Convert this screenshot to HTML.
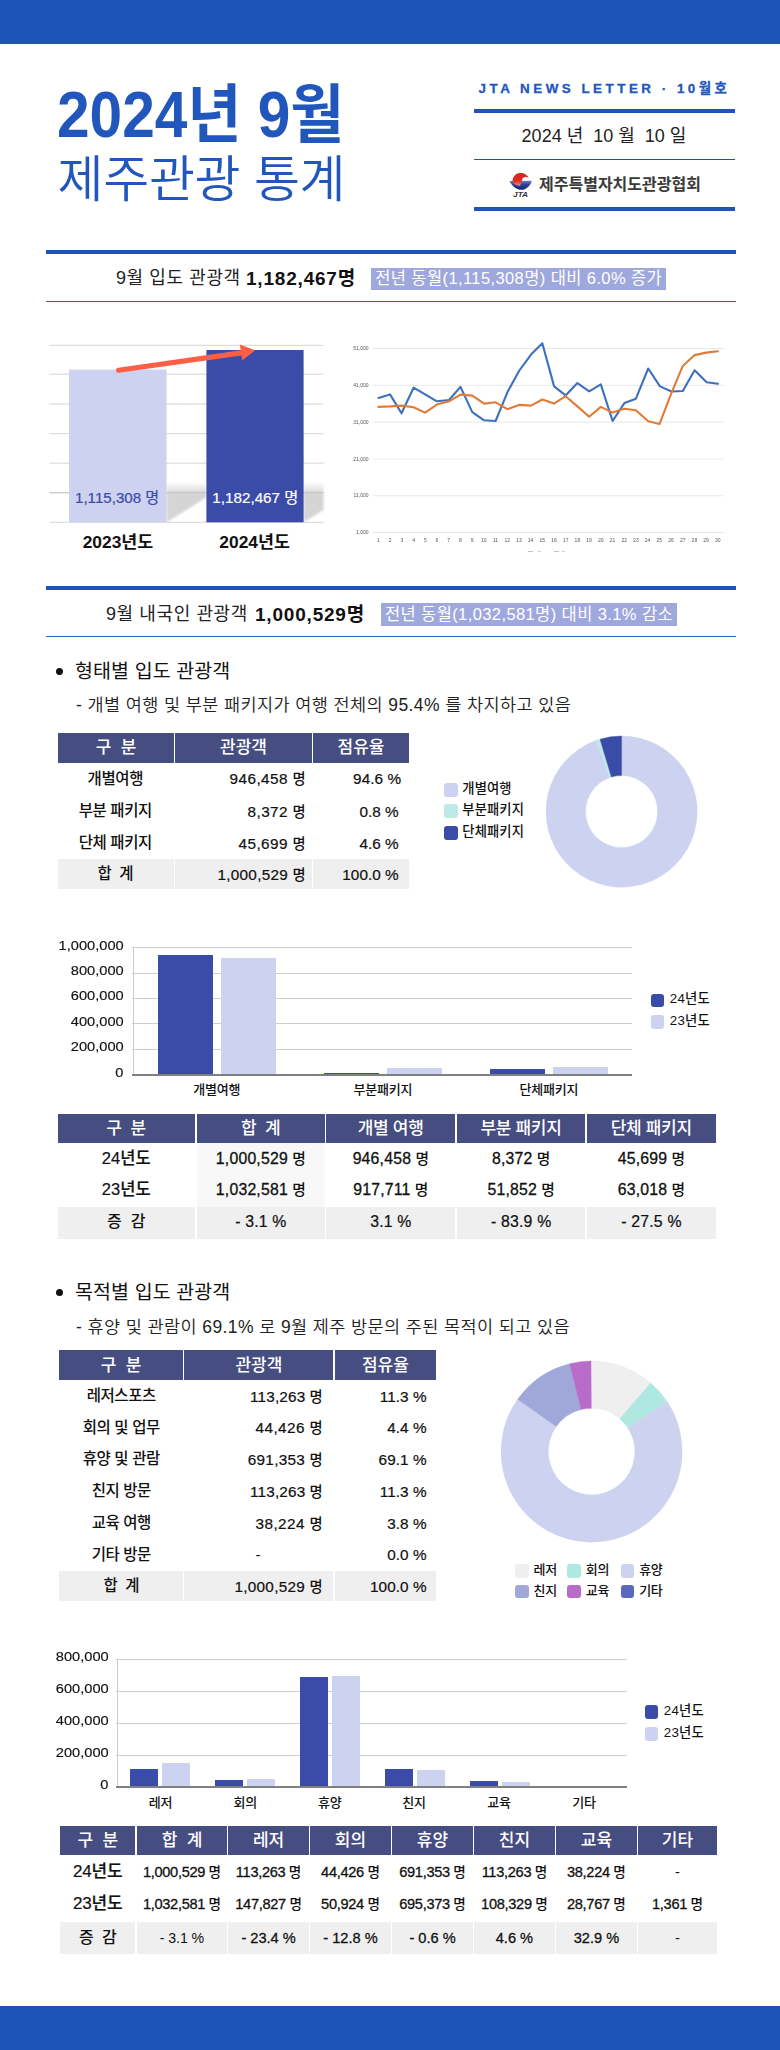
<!DOCTYPE html>
<html lang="ko"><head><meta charset="utf-8"><title>2024년 9월 제주관광 통계</title>
<style>
html,body{margin:0;padding:0;background:#fff}
#page{position:relative;width:780px;height:2050px;overflow:hidden;background:#fff;font-family:"Liberation Sans","Noto Sans CJK KR",sans-serif;}
.t{position:absolute;white-space:nowrap;}
.r{position:absolute;}
.m{-webkit-text-stroke:0;font-size:0.93em;font-weight:500;}
</style></head><body><div id="page">
<div class="r" style="left:0.0px;top:0.0px;width:780.0px;height:43.5px;background:#1f54b7;"></div>
<div class="r" style="left:0.0px;top:2005.5px;width:780.0px;height:44.5px;background:#1f54b7;"></div>
<div class="t" style="top:69.7px;height:90px;line-height:90px;font-size:64px;font-weight:700;color:#2157bd;letter-spacing:0px;left:57.3px;transform:scaleX(0.916);transform-origin:0 50%;">2024년 9월</div>
<div class="t" style="top:144.5px;height:70px;line-height:70px;font-size:50px;font-weight:350;color:#2157bd;letter-spacing:-0.3px;left:57.5px;">제주관광 통계</div>
<div class="t" style="top:78.5px;height:19px;line-height:19px;font-size:13.4px;font-weight:700;color:#2157bd;letter-spacing:3.5px;left:478.5px;-webkit-text-stroke:0.3px #2157bd;">JTA NEWS LETTER · 10월호</div>
<div class="r" style="left:474.0px;top:108.5px;width:261.0px;height:4.0px;background:#1f54b7;"></div>
<div class="t" style="top:124.0px;height:25px;line-height:25px;font-size:18px;font-weight:400;color:#222;left:404.0px;width:400px;text-align:center;">2024 년&nbsp; 10 월&nbsp; 10 일</div>
<div class="r" style="left:474.0px;top:159.0px;width:261.0px;height:1.2px;background:#1f54b7;"></div>
<div class="r" style="left:474.0px;top:206.5px;width:261.0px;height:4.0px;background:#1f54b7;"></div>
<div class="t" style="top:173.5px;height:22px;line-height:22px;font-size:16px;font-weight:700;color:#3a3a3a;letter-spacing:0px;left:539.0px;">제주특별자치도관광협회</div>
<svg class="r" style="left:505px;top:168px" width="30" height="32" viewBox="505 168 30 32">
<defs><linearGradient id="lb" x1="0" y1="0" x2="0" y2="1"><stop offset="0" stop-color="#6b7fc6"/><stop offset="0.45" stop-color="#2c3f95"/><stop offset="1" stop-color="#1a2874"/></linearGradient>
<linearGradient id="lr" x1="0" y1="0" x2="0" y2="1"><stop offset="0" stop-color="#d9261c"/><stop offset="0.6" stop-color="#dc2d23"/><stop offset="1" stop-color="#ee8a80"/></linearGradient></defs>
<path d="M509.5 181 L531.7 180.7 C530.3 186 526.2 189.8 521.4 189.8 C516.6 189.8 512.2 186.4 509.5 181 Z" fill="url(#lb)"/>
<path d="M512.5 180.6 A8.3 7.3 0 0 1 528.8 178.4 C527 176.6 523.9 176.5 522.6 178.6 C521.4 180.6 521.6 183.6 519.8 185.9 C515.6 185.6 512.7 183.6 512.5 180.6 Z" fill="url(#lr)"/>
<text x="520.6" y="196.9" font-family="Liberation Sans, sans-serif" font-size="6.4" font-weight="700" font-style="italic" text-anchor="middle" fill="#333" textLength="15" lengthAdjust="spacingAndGlyphs">JTA</text>
</svg>
<div class="r" style="left:46.0px;top:250.0px;width:690.0px;height:4.0px;background:#1f54b7;"></div>
<div class="r" style="left:46.0px;top:300.5px;width:690.0px;height:1.2px;background:#2d5fc0;"></div>
<div class="t" style="top:266.0px;height:25px;line-height:25px;font-size:18px;font-weight:400;color:#222;letter-spacing:0.6px;left:116.0px;">9월 입도 관광객</div>
<div class="t" style="top:265.0px;height:27px;line-height:27px;font-size:19px;font-weight:700;color:#111;letter-spacing:0.8px;left:246.0px;">1,182,467명</div>
<div class="r" style="left:371.0px;top:267.5px;width:295.0px;height:22.5px;background:#9fa8dc;"></div>
<div class="t" style="top:267.0px;height:23px;line-height:23px;font-size:16.5px;font-weight:400;color:#fff;letter-spacing:0.4px;left:318.5px;width:400px;text-align:center;text-indent:0.4px;">전년 동월(1,115,308명) 대비 6.0% 증가</div>
<div class="r" style="left:46.0px;top:585.5px;width:690.0px;height:4.0px;background:#1f54b7;"></div>
<div class="r" style="left:46.0px;top:636.0px;width:690.0px;height:1.2px;background:#2d5fc0;"></div>
<div class="t" style="top:601.5px;height:25px;line-height:25px;font-size:18px;font-weight:400;color:#222;letter-spacing:0.6px;left:106.0px;">9월 내국인 관광객</div>
<div class="t" style="top:600.5px;height:27px;line-height:27px;font-size:19px;font-weight:700;color:#111;letter-spacing:0.8px;left:255.0px;">1,000,529명</div>
<div class="r" style="left:381.0px;top:603.0px;width:295.5px;height:22.5px;background:#9fa8dc;"></div>
<div class="t" style="top:602.5px;height:23px;line-height:23px;font-size:16.5px;font-weight:400;color:#fff;letter-spacing:0.4px;left:328.8px;width:400px;text-align:center;text-indent:0.4px;">전년 동월(1,032,581명) 대비 3.1% 감소</div>
<svg class="r" style="left:40px;top:330px" width="300" height="240" viewBox="40 330 300 240"><defs><linearGradient id="sh" x1="0" y1="0" x2="0" y2="1"><stop offset="0" stop-color="#d4d4d4" stop-opacity="0"/><stop offset="0.3" stop-color="#d4d4d4" stop-opacity="1"/><stop offset="1" stop-color="#d6d6d6" stop-opacity="1"/></linearGradient><filter id="bl" x="-10%" y="-10%" width="120%" height="120%"><feGaussianBlur stdDeviation="1.1"/></filter></defs><rect x="49.5" y="344.79999999999995" width="274" height="1.2" fill="#dcdcdc"/><rect x="49.5" y="373.59999999999997" width="274" height="1.2" fill="#dcdcdc"/><rect x="49.5" y="403.5" width="274" height="1.2" fill="#dcdcdc"/><rect x="49.5" y="433.0" width="274" height="1.2" fill="#dcdcdc"/><rect x="49.5" y="462.59999999999997" width="274" height="1.2" fill="#dcdcdc"/><rect x="49.5" y="492.09999999999997" width="274" height="1.2" fill="#dcdcdc"/><rect x="49.5" y="521.6999999999999" width="274" height="1.2" fill="#dcdcdc"/><polygon points="166.6,522.3 206.4,497.5 206.4,482 166.6,482" fill="url(#sh)" filter="url(#bl)"/><polygon points="303.6,522.3 323.5,510 323.5,482 303.6,482" fill="url(#sh)" filter="url(#bl)"/><rect x="49.5" y="492.1" width="274" height="1.2" fill="#bdbdbd" opacity="0.6"/><rect x="69" y="369.6" width="97.6" height="152.7" fill="#cdd2f0"/><rect x="206.4" y="350" width="97.2" height="172.3" fill="#3b4ba8"/><line x1="118.6" y1="370.2" x2="243" y2="352.6" stroke="#fb6047" stroke-width="5.2" stroke-linecap="round"/><polygon points="255.2,350.3 239.8,344.6 242.2,360.6" fill="#fb6047"/><text x="75" y="502.6" font-family='"Liberation Sans","Noto Sans CJK KR",sans-serif' font-size="14.5" font-weight="400" fill="#3b4ba8" stroke="#3b4ba8" stroke-width="0.2" textLength="84.3" lengthAdjust="spacingAndGlyphs">1,115,308 명</text><text x="212.3" y="502.6" font-family='"Liberation Sans","Noto Sans CJK KR",sans-serif' font-size="14.5" font-weight="400" fill="#fff" stroke="#fff" stroke-width="0.2" textLength="86" lengthAdjust="spacingAndGlyphs">1,182,467 명</text><text x="82.7" y="548" font-family='"Liberation Sans","Noto Sans CJK KR",sans-serif' font-size="16.5" font-weight="700" fill="#111" textLength="70.6" lengthAdjust="spacingAndGlyphs">2023년도</text><text x="219.3" y="548" font-family='"Liberation Sans","Noto Sans CJK KR",sans-serif' font-size="16.5" font-weight="700" fill="#111" textLength="70.7" lengthAdjust="spacingAndGlyphs">2024년도</text></svg>
<svg class="r" style="left:340px;top:330px" width="400" height="240" viewBox="340 330 400 240"><defs><filter id="bl2"><feGaussianBlur stdDeviation="0.35"/></filter></defs><g filter="url(#bl2)"><rect x="373" y="348.0" width="351" height="0.8" fill="#e3e3e3"/><text x="368.5" y="350.0" font-family='"Liberation Sans","Noto Sans CJK KR",sans-serif' font-size="5" fill="#555" text-anchor="end">51,000</text><rect x="373" y="384.9" width="351" height="0.8" fill="#e3e3e3"/><text x="368.5" y="386.9" font-family='"Liberation Sans","Noto Sans CJK KR",sans-serif' font-size="5" fill="#555" text-anchor="end">41,000</text><rect x="373" y="421.7" width="351" height="0.8" fill="#e3e3e3"/><text x="368.5" y="423.7" font-family='"Liberation Sans","Noto Sans CJK KR",sans-serif' font-size="5" fill="#555" text-anchor="end">31,000</text><rect x="373" y="458.6" width="351" height="0.8" fill="#e3e3e3"/><text x="368.5" y="460.6" font-family='"Liberation Sans","Noto Sans CJK KR",sans-serif' font-size="5" fill="#555" text-anchor="end">21,000</text><rect x="373" y="495.4" width="351" height="0.8" fill="#e3e3e3"/><text x="368.5" y="497.4" font-family='"Liberation Sans","Noto Sans CJK KR",sans-serif' font-size="5" fill="#555" text-anchor="end">11,000</text><rect x="373" y="532.2" width="351" height="0.8" fill="#e3e3e3"/><text x="368.5" y="534.2" font-family='"Liberation Sans","Noto Sans CJK KR",sans-serif' font-size="5" fill="#555" text-anchor="end">1,000</text><text x="378.5" y="541.5" font-family='"Liberation Sans","Noto Sans CJK KR",sans-serif' font-size="5" fill="#555" text-anchor="middle">1</text><text x="390.2" y="541.5" font-family='"Liberation Sans","Noto Sans CJK KR",sans-serif' font-size="5" fill="#555" text-anchor="middle">2</text><text x="401.9" y="541.5" font-family='"Liberation Sans","Noto Sans CJK KR",sans-serif' font-size="5" fill="#555" text-anchor="middle">3</text><text x="413.6" y="541.5" font-family='"Liberation Sans","Noto Sans CJK KR",sans-serif' font-size="5" fill="#555" text-anchor="middle">4</text><text x="425.3" y="541.5" font-family='"Liberation Sans","Noto Sans CJK KR",sans-serif' font-size="5" fill="#555" text-anchor="middle">5</text><text x="437.0" y="541.5" font-family='"Liberation Sans","Noto Sans CJK KR",sans-serif' font-size="5" fill="#555" text-anchor="middle">6</text><text x="448.7" y="541.5" font-family='"Liberation Sans","Noto Sans CJK KR",sans-serif' font-size="5" fill="#555" text-anchor="middle">7</text><text x="460.4" y="541.5" font-family='"Liberation Sans","Noto Sans CJK KR",sans-serif' font-size="5" fill="#555" text-anchor="middle">8</text><text x="472.1" y="541.5" font-family='"Liberation Sans","Noto Sans CJK KR",sans-serif' font-size="5" fill="#555" text-anchor="middle">9</text><text x="483.8" y="541.5" font-family='"Liberation Sans","Noto Sans CJK KR",sans-serif' font-size="5" fill="#555" text-anchor="middle">10</text><text x="495.5" y="541.5" font-family='"Liberation Sans","Noto Sans CJK KR",sans-serif' font-size="5" fill="#555" text-anchor="middle">11</text><text x="507.2" y="541.5" font-family='"Liberation Sans","Noto Sans CJK KR",sans-serif' font-size="5" fill="#555" text-anchor="middle">12</text><text x="518.9" y="541.5" font-family='"Liberation Sans","Noto Sans CJK KR",sans-serif' font-size="5" fill="#555" text-anchor="middle">13</text><text x="530.6" y="541.5" font-family='"Liberation Sans","Noto Sans CJK KR",sans-serif' font-size="5" fill="#555" text-anchor="middle">14</text><text x="542.3" y="541.5" font-family='"Liberation Sans","Noto Sans CJK KR",sans-serif' font-size="5" fill="#555" text-anchor="middle">15</text><text x="554.0" y="541.5" font-family='"Liberation Sans","Noto Sans CJK KR",sans-serif' font-size="5" fill="#555" text-anchor="middle">16</text><text x="565.7" y="541.5" font-family='"Liberation Sans","Noto Sans CJK KR",sans-serif' font-size="5" fill="#555" text-anchor="middle">17</text><text x="577.4" y="541.5" font-family='"Liberation Sans","Noto Sans CJK KR",sans-serif' font-size="5" fill="#555" text-anchor="middle">18</text><text x="589.1" y="541.5" font-family='"Liberation Sans","Noto Sans CJK KR",sans-serif' font-size="5" fill="#555" text-anchor="middle">19</text><text x="600.8" y="541.5" font-family='"Liberation Sans","Noto Sans CJK KR",sans-serif' font-size="5" fill="#555" text-anchor="middle">20</text><text x="612.5" y="541.5" font-family='"Liberation Sans","Noto Sans CJK KR",sans-serif' font-size="5" fill="#555" text-anchor="middle">21</text><text x="624.2" y="541.5" font-family='"Liberation Sans","Noto Sans CJK KR",sans-serif' font-size="5" fill="#555" text-anchor="middle">22</text><text x="635.9" y="541.5" font-family='"Liberation Sans","Noto Sans CJK KR",sans-serif' font-size="5" fill="#555" text-anchor="middle">23</text><text x="647.6" y="541.5" font-family='"Liberation Sans","Noto Sans CJK KR",sans-serif' font-size="5" fill="#555" text-anchor="middle">24</text><text x="659.3" y="541.5" font-family='"Liberation Sans","Noto Sans CJK KR",sans-serif' font-size="5" fill="#555" text-anchor="middle">25</text><text x="671.0" y="541.5" font-family='"Liberation Sans","Noto Sans CJK KR",sans-serif' font-size="5" fill="#555" text-anchor="middle">26</text><text x="682.7" y="541.5" font-family='"Liberation Sans","Noto Sans CJK KR",sans-serif' font-size="5" fill="#555" text-anchor="middle">27</text><text x="694.4" y="541.5" font-family='"Liberation Sans","Noto Sans CJK KR",sans-serif' font-size="5" fill="#555" text-anchor="middle">28</text><text x="706.1" y="541.5" font-family='"Liberation Sans","Noto Sans CJK KR",sans-serif' font-size="5" fill="#555" text-anchor="middle">29</text><text x="717.8" y="541.5" font-family='"Liberation Sans","Noto Sans CJK KR",sans-serif' font-size="5" fill="#555" text-anchor="middle">30</text><polyline fill="none" stroke="#3e6fbe" stroke-width="2.1" stroke-linejoin="round" stroke-linecap="round" points="378.5,397.9 390.0,394.4 401.5,413.3 413.6,387.7 425.1,394.4 436.9,401.3 449.0,400.0 460.5,386.9 472.3,412.1 484.1,420.3 495.6,421.0 507.4,392.3 519.0,371.0 531.0,354.6 542.3,343.3 554.1,386.4 565.6,395.4 577.4,383.1 589.2,391.3 600.8,384.4 612.6,421.0 624.4,403.1 635.9,398.7 648.2,368.5 660.0,386.4 671.5,391.5 682.8,391.0 694.6,370.3 706.7,382.3 717.9,383.8"/><polyline fill="none" stroke="#e07b39" stroke-width="2.1" stroke-linejoin="round" stroke-linecap="round" points="378.5,406.9 390.0,406.4 401.5,405.6 413.6,407.2 425.1,412.6 436.9,404.6 449.0,401.3 460.5,394.6 472.3,395.6 484.1,403.6 495.6,402.3 507.4,409.2 519.0,404.9 531.0,405.6 542.3,399.5 554.1,403.6 565.6,396.2 577.4,406.4 589.2,416.7 600.8,406.9 612.6,412.6 624.4,408.7 635.9,410.3 648.2,421.3 659.5,424.1 671.0,394.1 682.8,365.9 694.6,355.1 706.2,352.6 717.9,351.3"/><rect x="528" y="551" width="5" height="0.7" fill="#aaa"/><rect x="538" y="551" width="3" height="0.7" fill="#bbb"/><rect x="554" y="551" width="5" height="0.7" fill="#aaa"/><rect x="562" y="551" width="3" height="0.7" fill="#bbb"/></g></svg>
<div class="r" style="left:55.5px;top:667.5px;width:7.4px;height:7.4px;background:#111;border-radius:50%;"></div>
<div class="t" style="top:657.5px;height:27px;line-height:27px;font-size:19.5px;font-weight:400;color:#111;letter-spacing:0.1px;left:75.0px;">형태별 입도 관광객</div>
<div class="t" style="top:692.8px;height:24px;line-height:24px;font-size:17.5px;font-weight:350;color:#222;letter-spacing:0.4px;left:76.0px;">- 개별 여행 및 부분 패키지가 여행 전체의 95.4% 를 차지하고 있음</div>
<div class="r" style="left:55.5px;top:1288.5px;width:7.4px;height:7.4px;background:#111;border-radius:50%;"></div>
<div class="t" style="top:1278.5px;height:27px;line-height:27px;font-size:19.5px;font-weight:400;color:#111;letter-spacing:0.1px;left:75.0px;">목적별 입도 관광객</div>
<div class="t" style="top:1314.8px;height:24px;line-height:24px;font-size:17.5px;font-weight:350;color:#222;letter-spacing:0.4px;left:76.0px;">- 휴양 및 관람이 69.1% 로 9월 제주 방문의 주된 목적이 되고 있음</div>
<div class="r" style="left:58.0px;top:732.5px;width:116.0px;height:30.0px;background:#464d80;"></div>
<div class="t" style="top:736.0px;height:24px;line-height:24px;font-size:17px;font-weight:500;color:#fff;letter-spacing:0px;left:-84.0px;width:400px;text-align:center;">구&nbsp; 분</div>
<div class="r" style="left:175.3px;top:732.5px;width:136.4px;height:30.0px;background:#464d80;"></div>
<div class="t" style="top:736.0px;height:24px;line-height:24px;font-size:17px;font-weight:500;color:#fff;letter-spacing:0px;left:43.5px;width:400px;text-align:center;">관광객</div>
<div class="r" style="left:313.0px;top:732.5px;width:96.0px;height:30.0px;background:#464d80;"></div>
<div class="t" style="top:736.0px;height:24px;line-height:24px;font-size:17px;font-weight:500;color:#fff;letter-spacing:0px;left:161.0px;width:400px;text-align:center;">점유율</div>
<div class="r" style="left:58.0px;top:859.0px;width:116.0px;height:30.0px;background:#efefef;"></div>
<div class="r" style="left:175.3px;top:859.0px;width:136.4px;height:30.0px;background:#efefef;"></div>
<div class="r" style="left:313.0px;top:859.0px;width:96.0px;height:30.0px;background:#efefef;"></div>
<div class="t" style="top:767.5px;height:22px;line-height:22px;font-size:15.5px;font-weight:500;color:#111;letter-spacing:-0.4px;left:-84.5px;width:400px;text-align:center;text-indent:-0.4px;">개별여행</div>
<div class="t" style="top:768.0px;height:21px;line-height:21px;font-size:15.3px;font-weight:400;color:#111;letter-spacing:0.45px;right:474.5px;-webkit-text-stroke:0.22px #111;margin-right:-0.45px;">946,458<span class="m"> 명</span></div>
<div class="t" style="top:768.0px;height:21px;line-height:21px;font-size:15.3px;font-weight:400;color:#111;letter-spacing:0.05px;right:379.0px;-webkit-text-stroke:0.22px #111;margin-right:-0.05px;">94.6 %</div>
<div class="t" style="top:800.0px;height:22px;line-height:22px;font-size:15.5px;font-weight:500;color:#111;letter-spacing:-0.4px;left:-84.5px;width:400px;text-align:center;text-indent:-0.4px;">부분 패키지</div>
<div class="t" style="top:800.5px;height:21px;line-height:21px;font-size:15.3px;font-weight:400;color:#111;letter-spacing:0.45px;right:474.5px;-webkit-text-stroke:0.22px #111;margin-right:-0.45px;">8,372<span class="m"> 명</span></div>
<div class="t" style="top:800.5px;height:21px;line-height:21px;font-size:15.3px;font-weight:400;color:#111;letter-spacing:0.05px;right:381.3px;-webkit-text-stroke:0.22px #111;margin-right:-0.05px;">0.8 %</div>
<div class="t" style="top:832.0px;height:22px;line-height:22px;font-size:15.5px;font-weight:500;color:#111;letter-spacing:-0.4px;left:-84.5px;width:400px;text-align:center;text-indent:-0.4px;">단체 패키지</div>
<div class="t" style="top:832.5px;height:21px;line-height:21px;font-size:15.3px;font-weight:400;color:#111;letter-spacing:0.45px;right:474.5px;-webkit-text-stroke:0.22px #111;margin-right:-0.45px;">45,699<span class="m"> 명</span></div>
<div class="t" style="top:832.5px;height:21px;line-height:21px;font-size:15.3px;font-weight:400;color:#111;letter-spacing:0.05px;right:381.3px;-webkit-text-stroke:0.22px #111;margin-right:-0.05px;">4.6 %</div>
<div class="t" style="top:863.0px;height:22px;line-height:22px;font-size:15.5px;font-weight:500;color:#111;letter-spacing:-0.4px;left:-84.5px;width:400px;text-align:center;text-indent:-0.4px;">합&nbsp; 계</div>
<div class="t" style="top:863.5px;height:21px;line-height:21px;font-size:15.3px;font-weight:400;color:#111;letter-spacing:0.30000000000000004px;right:474.5px;-webkit-text-stroke:0.22px #111;margin-right:-0.30000000000000004px;">1,000,529<span class="m"> 명</span></div>
<div class="t" style="top:863.5px;height:21px;line-height:21px;font-size:15.3px;font-weight:400;color:#111;letter-spacing:0.05px;right:381.3px;-webkit-text-stroke:0.22px #111;margin-right:-0.05px;">100.0 %</div>
<div class="r" style="left:59.0px;top:1350.0px;width:124.0px;height:30.0px;background:#464d80;"></div>
<div class="t" style="top:1353.5px;height:24px;line-height:24px;font-size:17px;font-weight:500;color:#fff;letter-spacing:0px;left:-79.0px;width:400px;text-align:center;">구&nbsp; 분</div>
<div class="r" style="left:184.3px;top:1350.0px;width:149.2px;height:30.0px;background:#464d80;"></div>
<div class="t" style="top:1353.5px;height:24px;line-height:24px;font-size:17px;font-weight:500;color:#fff;letter-spacing:0px;left:58.9px;width:400px;text-align:center;">관광객</div>
<div class="r" style="left:334.8px;top:1350.0px;width:101.2px;height:30.0px;background:#464d80;"></div>
<div class="t" style="top:1353.5px;height:24px;line-height:24px;font-size:17px;font-weight:500;color:#fff;letter-spacing:0px;left:185.4px;width:400px;text-align:center;">점유율</div>
<div class="r" style="left:59.0px;top:1570.7px;width:124.0px;height:30.5px;background:#efefef;"></div>
<div class="r" style="left:184.3px;top:1570.7px;width:149.2px;height:30.5px;background:#efefef;"></div>
<div class="r" style="left:334.8px;top:1570.7px;width:101.2px;height:30.5px;background:#efefef;"></div>
<div class="t" style="top:1385.2px;height:22px;line-height:22px;font-size:15.5px;font-weight:500;color:#111;letter-spacing:-0.4px;left:-78.5px;width:400px;text-align:center;text-indent:-0.4px;">레저스포츠</div>
<div class="t" style="top:1385.7px;height:21px;line-height:21px;font-size:15.3px;font-weight:400;color:#111;letter-spacing:0.15000000000000002px;right:457.5px;-webkit-text-stroke:0.22px #111;margin-right:-0.15000000000000002px;">113,263<span class="m"> 명</span></div>
<div class="t" style="top:1385.7px;height:21px;line-height:21px;font-size:15.3px;font-weight:400;color:#111;letter-spacing:0.05px;right:353.5px;-webkit-text-stroke:0.22px #111;margin-right:-0.05px;">11.3 %</div>
<div class="t" style="top:1416.7px;height:22px;line-height:22px;font-size:15.5px;font-weight:500;color:#111;letter-spacing:-0.4px;left:-78.5px;width:400px;text-align:center;text-indent:-0.4px;">회의 및 업무</div>
<div class="t" style="top:1417.2px;height:21px;line-height:21px;font-size:15.3px;font-weight:400;color:#111;letter-spacing:0.45px;right:457.5px;-webkit-text-stroke:0.22px #111;margin-right:-0.45px;">44,426<span class="m"> 명</span></div>
<div class="t" style="top:1417.2px;height:21px;line-height:21px;font-size:15.3px;font-weight:400;color:#111;letter-spacing:0.05px;right:353.5px;-webkit-text-stroke:0.22px #111;margin-right:-0.05px;">4.4 %</div>
<div class="t" style="top:1448.2px;height:22px;line-height:22px;font-size:15.5px;font-weight:500;color:#111;letter-spacing:-0.4px;left:-78.5px;width:400px;text-align:center;text-indent:-0.4px;">휴양 및 관람</div>
<div class="t" style="top:1448.7px;height:21px;line-height:21px;font-size:15.3px;font-weight:400;color:#111;letter-spacing:0.30000000000000004px;right:457.5px;-webkit-text-stroke:0.22px #111;margin-right:-0.30000000000000004px;">691,353<span class="m"> 명</span></div>
<div class="t" style="top:1448.7px;height:21px;line-height:21px;font-size:15.3px;font-weight:400;color:#111;letter-spacing:0.05px;right:353.5px;-webkit-text-stroke:0.22px #111;margin-right:-0.05px;">69.1 %</div>
<div class="t" style="top:1480.3px;height:22px;line-height:22px;font-size:15.5px;font-weight:500;color:#111;letter-spacing:-0.4px;left:-78.5px;width:400px;text-align:center;text-indent:-0.4px;">친지 방문</div>
<div class="t" style="top:1480.8px;height:21px;line-height:21px;font-size:15.3px;font-weight:400;color:#111;letter-spacing:0.15000000000000002px;right:457.5px;-webkit-text-stroke:0.22px #111;margin-right:-0.15000000000000002px;">113,263<span class="m"> 명</span></div>
<div class="t" style="top:1480.8px;height:21px;line-height:21px;font-size:15.3px;font-weight:400;color:#111;letter-spacing:0.05px;right:353.5px;-webkit-text-stroke:0.22px #111;margin-right:-0.05px;">11.3 %</div>
<div class="t" style="top:1512.4px;height:22px;line-height:22px;font-size:15.5px;font-weight:500;color:#111;letter-spacing:-0.4px;left:-78.5px;width:400px;text-align:center;text-indent:-0.4px;">교육 여행</div>
<div class="t" style="top:1512.9px;height:21px;line-height:21px;font-size:15.3px;font-weight:400;color:#111;letter-spacing:0.45px;right:457.5px;-webkit-text-stroke:0.22px #111;margin-right:-0.45px;">38,224<span class="m"> 명</span></div>
<div class="t" style="top:1512.9px;height:21px;line-height:21px;font-size:15.3px;font-weight:400;color:#111;letter-spacing:0.05px;right:353.5px;-webkit-text-stroke:0.22px #111;margin-right:-0.05px;">3.8 %</div>
<div class="t" style="top:1543.9px;height:22px;line-height:22px;font-size:15.5px;font-weight:500;color:#111;letter-spacing:-0.4px;left:-78.5px;width:400px;text-align:center;text-indent:-0.4px;">기타 방문</div>
<div class="t" style="top:1544.4px;height:21px;line-height:21px;font-size:15.3px;font-weight:400;color:#111;left:58.0px;width:400px;text-align:center;">-</div>
<div class="t" style="top:1544.4px;height:21px;line-height:21px;font-size:15.3px;font-weight:400;color:#111;letter-spacing:0.05px;right:353.5px;-webkit-text-stroke:0.22px #111;margin-right:-0.05px;">0.0 %</div>
<div class="t" style="top:1575.0px;height:22px;line-height:22px;font-size:15.5px;font-weight:500;color:#111;letter-spacing:-0.4px;left:-78.5px;width:400px;text-align:center;text-indent:-0.4px;">합&nbsp; 계</div>
<div class="t" style="top:1575.5px;height:21px;line-height:21px;font-size:15.3px;font-weight:400;color:#111;letter-spacing:0.30000000000000004px;right:457.5px;-webkit-text-stroke:0.22px #111;margin-right:-0.30000000000000004px;">1,000,529<span class="m"> 명</span></div>
<div class="t" style="top:1575.5px;height:21px;line-height:21px;font-size:15.3px;font-weight:400;color:#111;letter-spacing:0.05px;right:353.5px;-webkit-text-stroke:0.22px #111;margin-right:-0.05px;">100.0 %</div>
<div class="r" style="left:57.5px;top:1113.8px;width:137.5px;height:29.2px;background:#464d80;"></div>
<div class="t" style="top:1116.9px;height:24px;line-height:24px;font-size:17px;font-weight:500;color:#fff;letter-spacing:-0.3px;left:-73.8px;width:400px;text-align:center;text-indent:-0.3px;">구&nbsp; 분</div>
<div class="r" style="left:196.5px;top:1113.8px;width:128.5px;height:29.2px;background:#464d80;"></div>
<div class="t" style="top:1116.9px;height:24px;line-height:24px;font-size:17px;font-weight:500;color:#fff;letter-spacing:-0.3px;left:60.8px;width:400px;text-align:center;text-indent:-0.3px;">합&nbsp; 계</div>
<div class="r" style="left:326.3px;top:1113.8px;width:129.0px;height:29.2px;background:#464d80;"></div>
<div class="t" style="top:1116.9px;height:24px;line-height:24px;font-size:17px;font-weight:500;color:#fff;letter-spacing:-0.3px;left:190.8px;width:400px;text-align:center;text-indent:-0.3px;">개별 여행</div>
<div class="r" style="left:456.8px;top:1113.8px;width:128.7px;height:29.2px;background:#464d80;"></div>
<div class="t" style="top:1116.9px;height:24px;line-height:24px;font-size:17px;font-weight:500;color:#fff;letter-spacing:-0.3px;left:321.1px;width:400px;text-align:center;text-indent:-0.3px;">부분 패키지</div>
<div class="r" style="left:586.8px;top:1113.8px;width:129.2px;height:29.2px;background:#464d80;"></div>
<div class="t" style="top:1116.9px;height:24px;line-height:24px;font-size:17px;font-weight:500;color:#fff;letter-spacing:-0.3px;left:451.4px;width:400px;text-align:center;text-indent:-0.3px;">단체 패키지</div>
<div class="r" style="left:196.5px;top:1143.0px;width:128.5px;height:63.6px;background:#f8f8f8;"></div>
<div class="r" style="left:57.5px;top:1206.6px;width:137.5px;height:32.0px;background:#efefef;"></div>
<div class="r" style="left:196.5px;top:1206.6px;width:128.5px;height:32.0px;background:#efefef;"></div>
<div class="r" style="left:326.3px;top:1206.6px;width:129.0px;height:32.0px;background:#efefef;"></div>
<div class="r" style="left:456.8px;top:1206.6px;width:128.7px;height:32.0px;background:#efefef;"></div>
<div class="r" style="left:586.8px;top:1206.6px;width:129.2px;height:32.0px;background:#efefef;"></div>
<div class="t" style="top:1147.1px;height:23px;line-height:23px;font-size:16.5px;font-weight:500;color:#111;letter-spacing:0.1px;left:-73.8px;width:400px;text-align:center;-webkit-text-stroke:0.2px #111;text-indent:0.1px;">24년도</div>
<div class="t" style="top:1147.6px;height:22px;line-height:22px;font-size:15.8px;font-weight:500;color:#111;letter-spacing:0.2px;left:60.8px;width:400px;text-align:center;-webkit-text-stroke:0.3px #111;text-indent:0.2px;">1,000,529<span class="m"> 명</span></div>
<div class="t" style="top:1147.6px;height:22px;line-height:22px;font-size:15.8px;font-weight:500;color:#111;letter-spacing:0.2px;left:190.8px;width:400px;text-align:center;-webkit-text-stroke:0.3px #111;text-indent:0.2px;">946,458<span class="m"> 명</span></div>
<div class="t" style="top:1147.6px;height:22px;line-height:22px;font-size:15.8px;font-weight:500;color:#111;letter-spacing:0.2px;left:321.1px;width:400px;text-align:center;-webkit-text-stroke:0.3px #111;text-indent:0.2px;">8,372<span class="m"> 명</span></div>
<div class="t" style="top:1147.6px;height:22px;line-height:22px;font-size:15.8px;font-weight:500;color:#111;letter-spacing:0.2px;left:451.4px;width:400px;text-align:center;-webkit-text-stroke:0.3px #111;text-indent:0.2px;">45,699<span class="m"> 명</span></div>
<div class="t" style="top:1178.0px;height:23px;line-height:23px;font-size:16.5px;font-weight:500;color:#111;letter-spacing:0.1px;left:-73.8px;width:400px;text-align:center;-webkit-text-stroke:0.2px #111;text-indent:0.1px;">23년도</div>
<div class="t" style="top:1178.5px;height:22px;line-height:22px;font-size:15.8px;font-weight:500;color:#111;letter-spacing:0.2px;left:60.8px;width:400px;text-align:center;-webkit-text-stroke:0.3px #111;text-indent:0.2px;">1,032,581<span class="m"> 명</span></div>
<div class="t" style="top:1178.5px;height:22px;line-height:22px;font-size:15.8px;font-weight:500;color:#111;letter-spacing:0.2px;left:190.8px;width:400px;text-align:center;-webkit-text-stroke:0.3px #111;text-indent:0.2px;">917,711<span class="m"> 명</span></div>
<div class="t" style="top:1178.5px;height:22px;line-height:22px;font-size:15.8px;font-weight:500;color:#111;letter-spacing:0.2px;left:321.1px;width:400px;text-align:center;-webkit-text-stroke:0.3px #111;text-indent:0.2px;">51,852<span class="m"> 명</span></div>
<div class="t" style="top:1178.5px;height:22px;line-height:22px;font-size:15.8px;font-weight:500;color:#111;letter-spacing:0.2px;left:451.4px;width:400px;text-align:center;-webkit-text-stroke:0.3px #111;text-indent:0.2px;">63,018<span class="m"> 명</span></div>
<div class="t" style="top:1211.0px;height:22px;line-height:22px;font-size:16px;font-weight:500;color:#111;letter-spacing:0px;left:-73.8px;width:400px;text-align:center;">증&nbsp; 감</div>
<div class="t" style="top:1211.0px;height:22px;line-height:22px;font-size:15.8px;font-weight:500;color:#111;letter-spacing:0.2px;left:60.8px;width:400px;text-align:center;-webkit-text-stroke:0.22px #111;text-indent:0.2px;">- 3.1 %</div>
<div class="t" style="top:1211.0px;height:22px;line-height:22px;font-size:15.8px;font-weight:500;color:#111;letter-spacing:0.2px;left:190.8px;width:400px;text-align:center;-webkit-text-stroke:0.22px #111;text-indent:0.2px;">3.1 %</div>
<div class="t" style="top:1211.0px;height:22px;line-height:22px;font-size:15.8px;font-weight:500;color:#111;letter-spacing:0.2px;left:321.1px;width:400px;text-align:center;-webkit-text-stroke:0.22px #111;text-indent:0.2px;">- 83.9 %</div>
<div class="t" style="top:1211.0px;height:22px;line-height:22px;font-size:15.8px;font-weight:500;color:#111;letter-spacing:0.2px;left:451.4px;width:400px;text-align:center;-webkit-text-stroke:0.22px #111;text-indent:0.2px;">- 27.5 %</div>
<div class="r" style="left:60.3px;top:1826.0px;width:75.2px;height:28.7px;background:#464d80;"></div>
<div class="t" style="top:1828.8px;height:24px;line-height:24px;font-size:17px;font-weight:500;color:#fff;letter-spacing:0px;left:-102.1px;width:400px;text-align:center;">구&nbsp; 분</div>
<div class="r" style="left:137.0px;top:1826.0px;width:90.0px;height:28.7px;background:#464d80;"></div>
<div class="t" style="top:1828.8px;height:24px;line-height:24px;font-size:17px;font-weight:500;color:#fff;letter-spacing:0px;left:-18.0px;width:400px;text-align:center;">합&nbsp; 계</div>
<div class="r" style="left:228.3px;top:1826.0px;width:80.5px;height:28.7px;background:#464d80;"></div>
<div class="t" style="top:1828.8px;height:24px;line-height:24px;font-size:17px;font-weight:500;color:#fff;letter-spacing:0px;left:68.6px;width:400px;text-align:center;">레저</div>
<div class="r" style="left:310.2px;top:1826.0px;width:80.5px;height:28.7px;background:#464d80;"></div>
<div class="t" style="top:1828.8px;height:24px;line-height:24px;font-size:17px;font-weight:500;color:#fff;letter-spacing:0px;left:150.5px;width:400px;text-align:center;">회의</div>
<div class="r" style="left:392.2px;top:1826.0px;width:80.5px;height:28.7px;background:#464d80;"></div>
<div class="t" style="top:1828.8px;height:24px;line-height:24px;font-size:17px;font-weight:500;color:#fff;letter-spacing:0px;left:232.5px;width:400px;text-align:center;">휴양</div>
<div class="r" style="left:474.2px;top:1826.0px;width:80.5px;height:28.7px;background:#464d80;"></div>
<div class="t" style="top:1828.8px;height:24px;line-height:24px;font-size:17px;font-weight:500;color:#fff;letter-spacing:0px;left:314.4px;width:400px;text-align:center;">친지</div>
<div class="r" style="left:556.1px;top:1826.0px;width:80.5px;height:28.7px;background:#464d80;"></div>
<div class="t" style="top:1828.8px;height:24px;line-height:24px;font-size:17px;font-weight:500;color:#fff;letter-spacing:0px;left:396.4px;width:400px;text-align:center;">교육</div>
<div class="r" style="left:638.0px;top:1826.0px;width:79.0px;height:28.7px;background:#464d80;"></div>
<div class="t" style="top:1828.8px;height:24px;line-height:24px;font-size:17px;font-weight:500;color:#fff;letter-spacing:0px;left:477.5px;width:400px;text-align:center;">기타</div>
<div class="r" style="left:60.3px;top:1922.0px;width:75.2px;height:32.4px;background:#efefef;"></div>
<div class="r" style="left:137.0px;top:1922.0px;width:90.0px;height:32.4px;background:#efefef;"></div>
<div class="r" style="left:228.3px;top:1922.0px;width:80.5px;height:32.4px;background:#efefef;"></div>
<div class="r" style="left:310.2px;top:1922.0px;width:80.5px;height:32.4px;background:#efefef;"></div>
<div class="r" style="left:392.2px;top:1922.0px;width:80.5px;height:32.4px;background:#efefef;"></div>
<div class="r" style="left:474.2px;top:1922.0px;width:80.5px;height:32.4px;background:#efefef;"></div>
<div class="r" style="left:556.1px;top:1922.0px;width:80.5px;height:32.4px;background:#efefef;"></div>
<div class="r" style="left:638.0px;top:1922.0px;width:79.0px;height:32.4px;background:#efefef;"></div>
<div class="t" style="top:1860.2px;height:24px;line-height:24px;font-size:17px;font-weight:500;color:#111;letter-spacing:-0.2px;left:-102.1px;width:400px;text-align:center;-webkit-text-stroke:0.2px #111;text-indent:-0.2px;">24년도</div>
<div class="t" style="top:1862.2px;height:20px;line-height:20px;font-size:14.6px;font-weight:400;color:#111;letter-spacing:-0.3px;left:-18.0px;width:400px;text-align:center;-webkit-text-stroke:0.3px #111;text-indent:-0.3px;">1,000,529<span class="m"> 명</span></div>
<div class="t" style="top:1862.2px;height:20px;line-height:20px;font-size:14.6px;font-weight:400;color:#111;letter-spacing:-0.3px;left:68.6px;width:400px;text-align:center;-webkit-text-stroke:0.3px #111;text-indent:-0.3px;">113,263<span class="m"> 명</span></div>
<div class="t" style="top:1862.2px;height:20px;line-height:20px;font-size:14.6px;font-weight:400;color:#111;letter-spacing:-0.3px;left:150.5px;width:400px;text-align:center;-webkit-text-stroke:0.3px #111;text-indent:-0.3px;">44,426<span class="m"> 명</span></div>
<div class="t" style="top:1862.2px;height:20px;line-height:20px;font-size:14.6px;font-weight:400;color:#111;letter-spacing:-0.3px;left:232.5px;width:400px;text-align:center;-webkit-text-stroke:0.3px #111;text-indent:-0.3px;">691,353<span class="m"> 명</span></div>
<div class="t" style="top:1862.2px;height:20px;line-height:20px;font-size:14.6px;font-weight:400;color:#111;letter-spacing:-0.3px;left:314.4px;width:400px;text-align:center;-webkit-text-stroke:0.3px #111;text-indent:-0.3px;">113,263<span class="m"> 명</span></div>
<div class="t" style="top:1862.2px;height:20px;line-height:20px;font-size:14.6px;font-weight:400;color:#111;letter-spacing:-0.3px;left:396.4px;width:400px;text-align:center;-webkit-text-stroke:0.3px #111;text-indent:-0.3px;">38,224<span class="m"> 명</span></div>
<div class="t" style="top:1862.2px;height:20px;line-height:20px;font-size:14.6px;font-weight:400;color:#111;letter-spacing:-0.3px;left:477.5px;width:400px;text-align:center;text-indent:-0.3px;">-</div>
<div class="t" style="top:1892.0px;height:24px;line-height:24px;font-size:17px;font-weight:500;color:#111;letter-spacing:-0.2px;left:-102.1px;width:400px;text-align:center;-webkit-text-stroke:0.2px #111;text-indent:-0.2px;">23년도</div>
<div class="t" style="top:1894.0px;height:20px;line-height:20px;font-size:14.6px;font-weight:400;color:#111;letter-spacing:-0.3px;left:-18.0px;width:400px;text-align:center;-webkit-text-stroke:0.3px #111;text-indent:-0.3px;">1,032,581<span class="m"> 명</span></div>
<div class="t" style="top:1894.0px;height:20px;line-height:20px;font-size:14.6px;font-weight:400;color:#111;letter-spacing:-0.3px;left:68.6px;width:400px;text-align:center;-webkit-text-stroke:0.3px #111;text-indent:-0.3px;">147,827<span class="m"> 명</span></div>
<div class="t" style="top:1894.0px;height:20px;line-height:20px;font-size:14.6px;font-weight:400;color:#111;letter-spacing:-0.3px;left:150.5px;width:400px;text-align:center;-webkit-text-stroke:0.3px #111;text-indent:-0.3px;">50,924<span class="m"> 명</span></div>
<div class="t" style="top:1894.0px;height:20px;line-height:20px;font-size:14.6px;font-weight:400;color:#111;letter-spacing:-0.3px;left:232.5px;width:400px;text-align:center;-webkit-text-stroke:0.3px #111;text-indent:-0.3px;">695,373<span class="m"> 명</span></div>
<div class="t" style="top:1894.0px;height:20px;line-height:20px;font-size:14.6px;font-weight:400;color:#111;letter-spacing:-0.3px;left:314.4px;width:400px;text-align:center;-webkit-text-stroke:0.3px #111;text-indent:-0.3px;">108,329<span class="m"> 명</span></div>
<div class="t" style="top:1894.0px;height:20px;line-height:20px;font-size:14.6px;font-weight:400;color:#111;letter-spacing:-0.3px;left:396.4px;width:400px;text-align:center;-webkit-text-stroke:0.3px #111;text-indent:-0.3px;">28,767<span class="m"> 명</span></div>
<div class="t" style="top:1894.0px;height:20px;line-height:20px;font-size:14.6px;font-weight:400;color:#111;letter-spacing:-0.3px;left:477.5px;width:400px;text-align:center;-webkit-text-stroke:0.3px #111;text-indent:-0.3px;">1,361<span class="m"> 명</span></div>
<div class="t" style="top:1927.2px;height:22px;line-height:22px;font-size:16px;font-weight:500;color:#111;letter-spacing:-0.2px;left:-102.1px;width:400px;text-align:center;text-indent:-0.2px;">증&nbsp; 감</div>
<div class="t" style="top:1928.2px;height:20px;line-height:20px;font-size:14.2px;font-weight:400;color:#111;letter-spacing:-0.1px;left:-18.0px;width:400px;text-align:center;text-indent:-0.1px;">- 3.1 %</div>
<div class="t" style="top:1928.2px;height:20px;line-height:20px;font-size:14.6px;font-weight:400;color:#111;letter-spacing:0px;left:68.6px;width:400px;text-align:center;-webkit-text-stroke:0.28px #111;">- 23.4 %</div>
<div class="t" style="top:1928.2px;height:20px;line-height:20px;font-size:14.6px;font-weight:400;color:#111;letter-spacing:0px;left:150.5px;width:400px;text-align:center;-webkit-text-stroke:0.28px #111;">- 12.8 %</div>
<div class="t" style="top:1928.2px;height:20px;line-height:20px;font-size:14.6px;font-weight:400;color:#111;letter-spacing:0px;left:232.5px;width:400px;text-align:center;-webkit-text-stroke:0.28px #111;">- 0.6 %</div>
<div class="t" style="top:1928.2px;height:20px;line-height:20px;font-size:14.6px;font-weight:400;color:#111;letter-spacing:0px;left:314.4px;width:400px;text-align:center;-webkit-text-stroke:0.28px #111;">4.6 %</div>
<div class="t" style="top:1928.2px;height:20px;line-height:20px;font-size:14.6px;font-weight:400;color:#111;letter-spacing:0px;left:396.4px;width:400px;text-align:center;-webkit-text-stroke:0.28px #111;">32.9 %</div>
<div class="t" style="top:1928.2px;height:20px;line-height:20px;font-size:14.6px;font-weight:400;color:#111;letter-spacing:0px;left:477.5px;width:400px;text-align:center;">-</div>
<svg class="r" style="left:543.8px;top:734.3px" width="155.2" height="155.2" viewBox="543.8 734.3 155.2 155.2"><path d="M621.40 736.30 A75.6 75.6 0 1 1 596.24 740.61 L609.42 777.95 A36 36 0 1 0 621.40 775.90 Z" fill="#cdd2f0" stroke="#cdd2f0" stroke-width="0.4"/><path d="M596.24 740.61 A75.6 75.6 0 0 1 599.85 739.44 L611.14 777.39 A36 36 0 0 0 609.42 777.95 Z" fill="#bdeae6" stroke="#bdeae6" stroke-width="0.4"/><path d="M599.85 739.44 A75.6 75.6 0 0 1 621.40 736.30 L621.40 775.90 A36 36 0 0 0 611.14 777.39 Z" fill="#3b4ba8" stroke="#3b4ba8" stroke-width="0.4"/></svg>
<svg class="r" style="left:499.1px;top:1359.1px" width="185.2" height="185.2" viewBox="499.1 1359.1 185.2 185.2"><path d="M591.70 1361.10 A90.6 90.6 0 0 1 650.76 1382.99 L619.92 1418.86 A43.3 43.3 0 0 0 591.70 1408.40 Z" fill="#efefef" stroke="#efefef" stroke-width="0.4"/><path d="M650.76 1382.99 A90.6 90.6 0 0 1 667.27 1401.72 L627.82 1427.81 A43.3 43.3 0 0 0 619.92 1418.86 Z" fill="#aee8e0" stroke="#aee8e0" stroke-width="0.4"/><path d="M667.27 1401.72 A90.6 90.6 0 1 1 517.74 1399.37 L556.35 1426.69 A43.3 43.3 0 1 0 627.82 1427.81 Z" fill="#cdd2f0" stroke="#cdd2f0" stroke-width="0.4"/><path d="M517.74 1399.37 A90.6 90.6 0 0 1 569.72 1363.81 L581.20 1409.69 A43.3 43.3 0 0 0 556.35 1426.69 Z" fill="#9fa8d8" stroke="#9fa8d8" stroke-width="0.4"/><path d="M569.72 1363.81 A90.6 90.6 0 0 1 591.13 1361.10 L591.43 1408.40 A43.3 43.3 0 0 0 581.20 1409.69 Z" fill="#b86bc8" stroke="#b86bc8" stroke-width="0.4"/></svg>
<div class="r" style="left:443.5px;top:782.9px;width:14.0px;height:14.0px;background:#cdd2f0;border-radius:3px;"></div>
<div class="t" style="top:778.9px;height:19px;line-height:19px;font-size:13.3px;font-weight:500;color:#111;letter-spacing:0.1px;left:462.3px;">개별여행</div>
<div class="r" style="left:443.5px;top:804.3px;width:14.0px;height:14.0px;background:#bdeae6;border-radius:3px;"></div>
<div class="t" style="top:800.3px;height:19px;line-height:19px;font-size:13.3px;font-weight:500;color:#111;letter-spacing:0.1px;left:462.3px;">부분패키지</div>
<div class="r" style="left:443.5px;top:825.7px;width:14.0px;height:14.0px;background:#3b4ba8;border-radius:3px;"></div>
<div class="t" style="top:821.7px;height:19px;line-height:19px;font-size:13.3px;font-weight:500;color:#111;letter-spacing:0.1px;left:462.3px;">단체패키지</div>
<div class="r" style="left:515.0px;top:1564.0px;width:13.5px;height:13.5px;background:#efefef;border-radius:3px;"></div>
<div class="t" style="top:1561.2px;height:18px;line-height:18px;font-size:13px;font-weight:500;color:#111;letter-spacing:-0.3px;left:533.5px;">레저</div>
<div class="r" style="left:567.3px;top:1564.0px;width:13.5px;height:13.5px;background:#aee8e0;border-radius:3px;"></div>
<div class="t" style="top:1561.2px;height:18px;line-height:18px;font-size:13px;font-weight:500;color:#111;letter-spacing:-0.3px;left:585.8px;">회의</div>
<div class="r" style="left:620.7px;top:1564.0px;width:13.5px;height:13.5px;background:#cdd2f0;border-radius:3px;"></div>
<div class="t" style="top:1561.2px;height:18px;line-height:18px;font-size:13px;font-weight:500;color:#111;letter-spacing:-0.3px;left:639.2px;">휴양</div>
<div class="r" style="left:515.0px;top:1584.7px;width:13.5px;height:13.5px;background:#9fa8d8;border-radius:3px;"></div>
<div class="t" style="top:1581.9px;height:18px;line-height:18px;font-size:13px;font-weight:500;color:#111;letter-spacing:-0.3px;left:533.5px;">친지</div>
<div class="r" style="left:567.3px;top:1584.7px;width:13.5px;height:13.5px;background:#b86bc8;border-radius:3px;"></div>
<div class="t" style="top:1581.9px;height:18px;line-height:18px;font-size:13px;font-weight:500;color:#111;letter-spacing:-0.3px;left:585.8px;">교육</div>
<div class="r" style="left:620.7px;top:1584.7px;width:13.5px;height:13.5px;background:#5a68c0;border-radius:3px;"></div>
<div class="t" style="top:1581.9px;height:18px;line-height:18px;font-size:13px;font-weight:500;color:#111;letter-spacing:-0.3px;left:639.2px;">기타</div>
<div class="r" style="left:132.3px;top:947.0px;width:500.2px;height:1.0px;background:#cdcdcd;"></div>
<div class="t" style="top:936.6px;height:18px;line-height:18px;font-size:13.2px;font-weight:400;color:#111;letter-spacing:0px;right:656.3px;transform:scaleX(1.11);transform-origin:100% 50%;-webkit-text-stroke:0.15px #111;">1,000,000</div>
<div class="r" style="left:132.3px;top:973.0px;width:500.2px;height:1.0px;background:#cdcdcd;"></div>
<div class="t" style="top:962.0px;height:18px;line-height:18px;font-size:13.2px;font-weight:400;color:#111;letter-spacing:0px;right:656.3px;transform:scaleX(1.11);transform-origin:100% 50%;-webkit-text-stroke:0.15px #111;">800,000</div>
<div class="r" style="left:132.3px;top:998.0px;width:500.2px;height:1.0px;background:#cdcdcd;"></div>
<div class="t" style="top:987.4px;height:18px;line-height:18px;font-size:13.2px;font-weight:400;color:#111;letter-spacing:0px;right:656.3px;transform:scaleX(1.11);transform-origin:100% 50%;-webkit-text-stroke:0.15px #111;">600,000</div>
<div class="r" style="left:132.3px;top:1023.0px;width:500.2px;height:1.0px;background:#cdcdcd;"></div>
<div class="t" style="top:1012.8px;height:18px;line-height:18px;font-size:13.2px;font-weight:400;color:#111;letter-spacing:0px;right:656.3px;transform:scaleX(1.11);transform-origin:100% 50%;-webkit-text-stroke:0.15px #111;">400,000</div>
<div class="r" style="left:132.3px;top:1049.0px;width:500.2px;height:1.0px;background:#cdcdcd;"></div>
<div class="t" style="top:1038.2px;height:18px;line-height:18px;font-size:13.2px;font-weight:400;color:#111;letter-spacing:0px;right:656.3px;transform:scaleX(1.11);transform-origin:100% 50%;-webkit-text-stroke:0.15px #111;">200,000</div>
<div class="t" style="top:1063.6px;height:18px;line-height:18px;font-size:13.2px;font-weight:400;color:#111;letter-spacing:0px;right:656.3px;transform:scaleX(1.11);transform-origin:100% 50%;-webkit-text-stroke:0.15px #111;">0</div>
<div class="r" style="left:133.0px;top:947.7px;width:1.0px;height:127.0px;background:#cdcdcd;"></div>
<div class="r" style="left:158.2px;top:954.5px;width:54.8px;height:120.2px;background:#3b4ba8;"></div>
<div class="r" style="left:221.0px;top:958.2px;width:54.8px;height:116.5px;background:#cdd2f0;"></div>
<div class="r" style="left:324.2px;top:1073.1px;width:54.8px;height:1.6px;background:#3b4ba8;"></div>
<div class="r" style="left:387.0px;top:1068.1px;width:54.8px;height:6.6px;background:#cdd2f0;"></div>
<div class="r" style="left:490.2px;top:1068.9px;width:54.8px;height:5.8px;background:#3b4ba8;"></div>
<div class="r" style="left:553.0px;top:1066.7px;width:54.8px;height:8.0px;background:#cdd2f0;"></div>
<div class="r" style="left:132.3px;top:1073.8px;width:500.2px;height:1.8px;background:#808080;"></div>
<div class="t" style="top:1080.8px;height:18px;line-height:18px;font-size:13px;font-weight:500;color:#111;letter-spacing:-0.2px;left:16.8px;width:400px;text-align:center;text-indent:-0.2px;">개별여행</div>
<div class="t" style="top:1080.8px;height:18px;line-height:18px;font-size:13px;font-weight:500;color:#111;letter-spacing:-0.2px;left:183.0px;width:400px;text-align:center;text-indent:-0.2px;">부분패키지</div>
<div class="t" style="top:1080.8px;height:18px;line-height:18px;font-size:13px;font-weight:500;color:#111;letter-spacing:-0.2px;left:349.0px;width:400px;text-align:center;text-indent:-0.2px;">단체패키지</div>
<div class="r" style="left:650.5px;top:993.5px;width:13.5px;height:13.5px;background:#3b4ba8;border-radius:3px;"></div>
<div class="t" style="top:989.3px;height:19px;line-height:19px;font-size:13.3px;font-weight:500;color:#111;letter-spacing:0.2px;left:669.8px;">24년도</div>
<div class="r" style="left:650.5px;top:1015.2px;width:13.5px;height:13.5px;background:#cdd2f0;border-radius:3px;"></div>
<div class="t" style="top:1011.0px;height:19px;line-height:19px;font-size:13.3px;font-weight:500;color:#111;letter-spacing:0.2px;left:669.8px;">23년도</div>
<div class="r" style="left:116.4px;top:1659.0px;width:510.6px;height:1.0px;background:#cdcdcd;"></div>
<div class="t" style="top:1648.4px;height:18px;line-height:18px;font-size:13.2px;font-weight:400;color:#111;letter-spacing:0px;right:671.6px;transform:scaleX(1.11);transform-origin:100% 50%;-webkit-text-stroke:0.15px #111;">800,000</div>
<div class="r" style="left:116.4px;top:1691.0px;width:510.6px;height:1.0px;background:#cdcdcd;"></div>
<div class="t" style="top:1680.2px;height:18px;line-height:18px;font-size:13.2px;font-weight:400;color:#111;letter-spacing:0px;right:671.6px;transform:scaleX(1.11);transform-origin:100% 50%;-webkit-text-stroke:0.15px #111;">600,000</div>
<div class="r" style="left:116.4px;top:1723.0px;width:510.6px;height:1.0px;background:#cdcdcd;"></div>
<div class="t" style="top:1712.1px;height:18px;line-height:18px;font-size:13.2px;font-weight:400;color:#111;letter-spacing:0px;right:671.6px;transform:scaleX(1.11);transform-origin:100% 50%;-webkit-text-stroke:0.15px #111;">400,000</div>
<div class="r" style="left:116.4px;top:1755.0px;width:510.6px;height:1.0px;background:#cdcdcd;"></div>
<div class="t" style="top:1744.0px;height:18px;line-height:18px;font-size:13.2px;font-weight:400;color:#111;letter-spacing:0px;right:671.6px;transform:scaleX(1.11);transform-origin:100% 50%;-webkit-text-stroke:0.15px #111;">200,000</div>
<div class="t" style="top:1775.8px;height:18px;line-height:18px;font-size:13.2px;font-weight:400;color:#111;letter-spacing:0px;right:671.6px;transform:scaleX(1.11);transform-origin:100% 50%;-webkit-text-stroke:0.15px #111;">0</div>
<div class="r" style="left:117.1px;top:1659.5px;width:1.0px;height:127.4px;background:#cdcdcd;"></div>
<div class="r" style="left:130.0px;top:1768.9px;width:28.3px;height:18.0px;background:#3b4ba8;"></div>
<div class="r" style="left:161.9px;top:1763.4px;width:28.3px;height:23.5px;background:#cdd2f0;"></div>
<div class="r" style="left:215.0px;top:1779.8px;width:28.3px;height:7.1px;background:#3b4ba8;"></div>
<div class="r" style="left:246.9px;top:1778.8px;width:28.3px;height:8.1px;background:#cdd2f0;"></div>
<div class="r" style="left:300.0px;top:1676.8px;width:28.3px;height:110.1px;background:#3b4ba8;"></div>
<div class="r" style="left:331.9px;top:1676.2px;width:28.3px;height:110.7px;background:#cdd2f0;"></div>
<div class="r" style="left:385.0px;top:1768.9px;width:28.3px;height:18.0px;background:#3b4ba8;"></div>
<div class="r" style="left:416.9px;top:1769.6px;width:28.3px;height:17.3px;background:#cdd2f0;"></div>
<div class="r" style="left:470.0px;top:1780.8px;width:28.3px;height:6.1px;background:#3b4ba8;"></div>
<div class="r" style="left:501.9px;top:1782.3px;width:28.3px;height:4.6px;background:#cdd2f0;"></div>
<div class="r" style="left:586.9px;top:1786.7px;width:28.3px;height:0.2px;background:#cdd2f0;"></div>
<div class="r" style="left:116.4px;top:1786.0px;width:510.6px;height:1.8px;background:#808080;"></div>
<div class="t" style="top:1793.5px;height:18px;line-height:18px;font-size:13px;font-weight:500;color:#111;letter-spacing:-0.2px;left:-39.5px;width:400px;text-align:center;text-indent:-0.2px;">레저</div>
<div class="t" style="top:1793.5px;height:18px;line-height:18px;font-size:13px;font-weight:500;color:#111;letter-spacing:-0.2px;left:45.4px;width:400px;text-align:center;text-indent:-0.2px;">회의</div>
<div class="t" style="top:1793.5px;height:18px;line-height:18px;font-size:13px;font-weight:500;color:#111;letter-spacing:-0.2px;left:129.8px;width:400px;text-align:center;text-indent:-0.2px;">휴양</div>
<div class="t" style="top:1793.5px;height:18px;line-height:18px;font-size:13px;font-weight:500;color:#111;letter-spacing:-0.2px;left:214.0px;width:400px;text-align:center;text-indent:-0.2px;">친지</div>
<div class="t" style="top:1793.5px;height:18px;line-height:18px;font-size:13px;font-weight:500;color:#111;letter-spacing:-0.2px;left:299.0px;width:400px;text-align:center;text-indent:-0.2px;">교육</div>
<div class="t" style="top:1793.5px;height:18px;line-height:18px;font-size:13px;font-weight:500;color:#111;letter-spacing:-0.2px;left:384.0px;width:400px;text-align:center;text-indent:-0.2px;">기타</div>
<div class="r" style="left:644.5px;top:1705.3px;width:13.5px;height:13.5px;background:#3b4ba8;border-radius:3px;"></div>
<div class="t" style="top:1701.1px;height:19px;line-height:19px;font-size:13.3px;font-weight:500;color:#111;letter-spacing:0.2px;left:663.8px;">24년도</div>
<div class="r" style="left:644.5px;top:1727.0px;width:13.5px;height:13.5px;background:#cdd2f0;border-radius:3px;"></div>
<div class="t" style="top:1722.8px;height:19px;line-height:19px;font-size:13.3px;font-weight:500;color:#111;letter-spacing:0.2px;left:663.8px;">23년도</div>
</div></body></html>
